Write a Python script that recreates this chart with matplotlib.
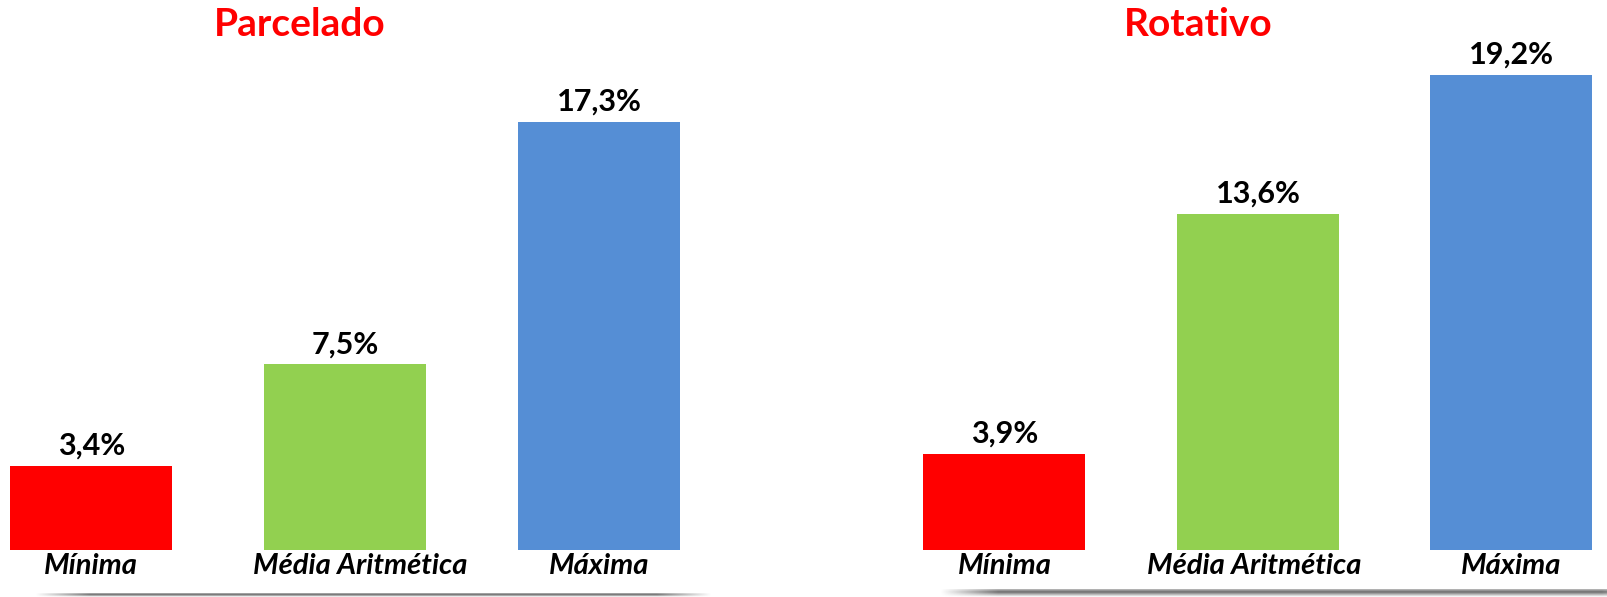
import matplotlib.pyplot as plt
import matplotlib.transforms as mtransforms
import numpy as np

categories = ['Mínima', 'Média Aritmética', 'Máxima']
parcelado = [3.4, 7.5, 17.3]
rotativo = [3.9, 13.6, 19.2]
colors = ['#FF0000', '#92D050', '#558ED5']

plt.rcParams['font.family'] = ['Lato', 'DejaVu Sans']

W, H = 1608, 597
fig = plt.figure(figsize=(W / 100, H / 100), dpi=100)

# background overlay in pixel coords for the box shadows
bg = fig.add_axes([0, 0, 1, 1], zorder=0)
bg.set_xlim(0, W)
bg.set_ylim(H, 0)
bg.axis('off')


def shadow(x0, x1, y0, y1, peak):
    n = 400
    t = np.linspace(0, 1, n)
    a = np.clip(np.minimum(t / 0.08, (1 - t) / 0.08), 0, 1) * peak
    rows = int(max(2, (y1 - y0) * 2))
    v = np.linspace(0, 1, rows)
    vprof = np.clip(1 - np.abs(v - 0.35) / 0.65, 0, 1)
    img = np.zeros((rows, n, 4))
    img[..., :3] = 0.35
    img[..., 3] = vprof[:, None] * a[None, :]
    bg.imshow(img, extent=(x0, x1, y1, y0), aspect='auto', interpolation='bilinear')


shadow(35, 712, 593, 597, 0.95)
shadow(940, 1660, 589, 597, 0.9)
bg.set_xlim(0, W)
bg.set_ylim(H, 0)

px_per_unit = 24.74


def panel(left_px, right_px, c0_px, step_px, values, title, title_x, mid_shift):
    ax = fig.add_axes([left_px / W, (H - 550) / H, (right_px - left_px) / W, 550 / H], zorder=1)
    ax.patch.set_alpha(0)
    x = np.arange(len(values))
    ax.bar(x, values, width=162 / step_px, color=colors)
    ax.set_xlim((left_px - c0_px) / step_px, (right_px - c0_px) / step_px)
    ax.set_ylim(0, 550 / px_per_unit)
    for i, v in enumerate(values):
        ax.annotate(f"{v:.1f}".replace('.', ',') + '%', (i, v), xytext=(0, 6),
                    textcoords='offset pixels', ha='center', va='bottom',
                    fontsize=22, fontweight='bold', color='black')
    ax.set_xticks(x)
    ax.set_xticklabels(categories, fontsize=21, fontweight='bold', fontstyle='italic')
    ax.tick_params(axis='x', length=0, pad=2)
    lbl = ax.get_xticklabels()[1]
    lbl.set_transform(lbl.get_transform() + mtransforms.ScaledTranslation(mid_shift / 100, 0, fig.dpi_scale_trans))
    ax.set_yticks([])
    for s in ax.spines.values():
        s.set_visible(False)
    fig.text(title_x / W, 1 - 25 / H, title, ha='center', va='center',
             fontsize=28, fontweight='bold', color='#FF0000')


panel(0, 700, 91.3, 253.9, parcelado, 'Parcelado', 299.5, 15)
panel(900, 1608, 1004.5, 253.5, rotativo, 'Rotativo', 1198, -4)

fig.savefig('out.png', dpi=100)
